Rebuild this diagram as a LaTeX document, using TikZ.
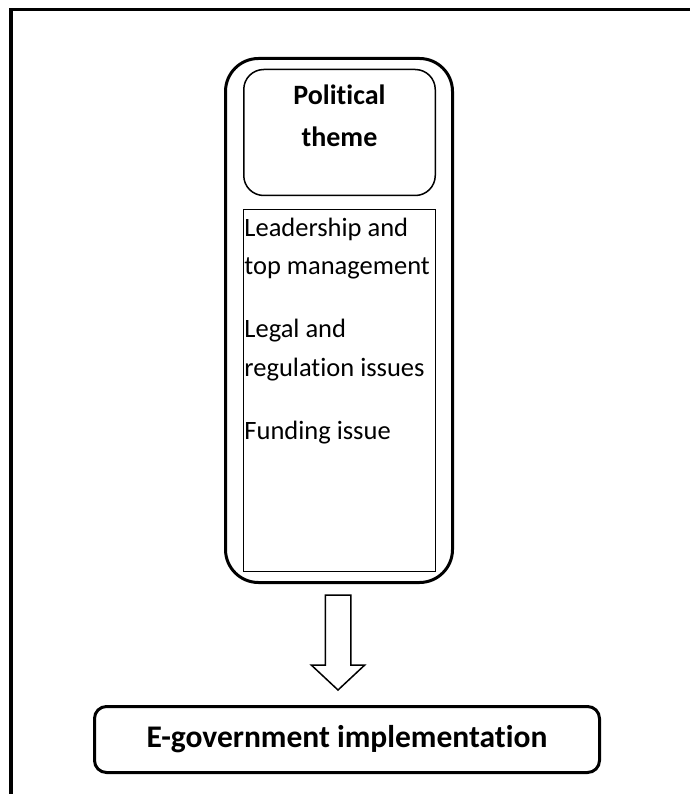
\documentclass[tikz,border=0pt]{standalone}
\usepackage{fontspec}
\setmainfont{Carlito}[Ligatures={NoCommon}, RawFeature={-liga;-dlig;-clig}]
\usetikzlibrary{calc}

\tikzset{
  panel/.style={draw, line width=3pt, rounded corners=33pt, inner sep=0pt},
  titlebox/.style={draw, line width=1.5pt, rounded corners=20pt, inner sep=0pt},
  listbox/.style={draw, line width=1.5pt, inner sep=0pt},
  goalbox/.style={draw, line width=3pt, rounded corners=12pt, inner sep=0pt,
    font=\fontsize{31.5}{38}\selectfont\bfseries},
  titletext/.style={anchor=base, inner sep=0pt, font=\fontsize{28}{42}\selectfont\bfseries},
  itemtext/.style={anchor=base west, inner sep=0pt, font=\fontsize{26.5}{38}\selectfont},
  blockarrow/.style={draw, line width=1.5pt, line join=miter, fill=white},
  frameline/.style={line width=3.5pt, line cap=rect}
}

\begin{document}
\begin{tikzpicture}[x=1pt, y=-1pt]
  \useasboundingbox (0,0) rectangle (689,794);

  % page frame (top and left rules)
  \coordinate (fbl) at (11,800);
  \coordinate (ftl) at (11,9.5);
  \coordinate (ftr) at (700,9.5);
  \draw[frameline] (fbl) -- (ftl) -- (ftr);

  % theme panel with its title and list of factors
  \node[panel, minimum width=227pt, minimum height=524pt] (theme) at (339,320.5) {};
  \node[titlebox, minimum width=191.5pt, minimum height=126pt] (title) at (339.5,132.5) {};
  \node[titletext] (title1) at (339.5,105) {Political};
  \node[titletext] (title2) at (339.5,147) {theme};

  \node[listbox, minimum width=192pt, minimum height=362pt] (list) at (339.5,390.5) {};
  \node[itemtext] (item1a) at ($(list.north west)+(1.5,28)$) {Leadership and};
  \node[itemtext] (item1b) at ($(list.north west)+(1.5,66)$) {top management};
  \node[itemtext] (item2a) at ($(list.north west)+(1.5,129)$) {Legal and};
  \node[itemtext] (item2b) at ($(list.north west)+(1.5,168)$) {regulation issues};
  \node[itemtext] (item3)  at ($(list.north west)+(1.5,231)$) {Funding issue};

  % outcome box
  \node[goalbox, minimum width=505pt, minimum height=66pt] (egov) at (347,739.5)
    {E-government implementation};

  % hollow block arrow from the panel down to the outcome
  \coordinate (shaftc) at ($(theme.south)+(-1,11)$);
  \coordinate (tip) at ($(theme.south |- egov.north)+(-1,-15)$);
  \draw[blockarrow]
    ($(shaftc)+(-12.75,0)$) -- ($(tip)+(-12.75,-25)$) -- ($(tip)+(-26.75,-25)$)
    -- (tip) -- ($(tip)+(26.75,-25)$) -- ($(tip)+(12.75,-25)$)
    -- ($(shaftc)+(12.75,0)$) -- cycle;
\end{tikzpicture}
\end{document}
